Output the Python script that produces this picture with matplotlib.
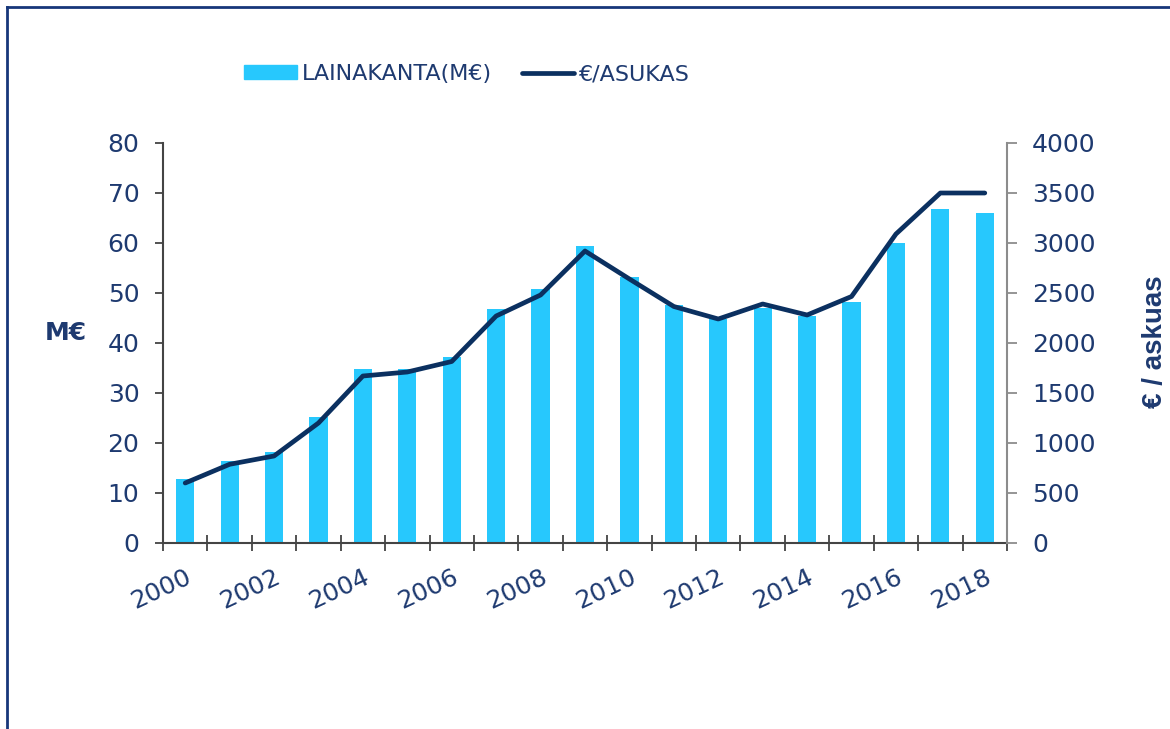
import matplotlib
matplotlib.use("Agg")
import matplotlib.pyplot as plt
from matplotlib.lines import Line2D
import numpy as np

years = list(range(2000, 2019))
lainakanta = [12.9, 16.4, 18.2, 25.2, 34.8, 34.8, 37.3, 46.9, 50.8, 59.5,
              53.3, 47.6, 44.8, 47.1, 45.5, 48.2, 60.0, 66.9, 66.1]
per_asukas = [600, 787, 870, 1200, 1670, 1710, 1815, 2270, 2480, 2920,
              2640, 2365, 2240, 2390, 2280, 2465, 3090, 3500, 3500]
left_ticks = [0, 10, 20, 30, 40, 50, 60, 70, 80]
right_ticks = [0, 500, 1000, 1500, 2000, 2500, 3000, 3500, 4000]

BAR = "#27C8FD"
LINE = "#0B3060"
TXT = "#1E3A70"
plt.rcParams['font.family'] = ['DejaVu Sans']

fig = plt.figure(figsize=(11.7, 7.29), dpi=100)
ax = fig.add_axes([163/1170, (729-543)/729, (1007-163)/1170, 400/729])
x = np.arange(len(years))
ax.bar(x, lainakanta, width=0.41, color=BAR, zorder=2, label="LAINAKANTA(M€)")
ax.set_xlim(-0.5, len(years) - 0.5)
ax.set_ylim(0, 80)
ax.set_yticks(left_ticks)
ax.set_yticklabels([str(v) for v in left_ticks])

ax2 = ax.twinx()
ax2.plot(x, per_asukas, color=LINE, lw=3.4, solid_capstyle='round',
         solid_joinstyle='round', zorder=3)
ax2.set_ylim(0, 4000)
ax2.set_yticks(right_ticks)
ax2.set_yticklabels([str(v) for v in right_ticks])
ax.set_zorder(1)
ax2.set_zorder(2)
ax2.patch.set_visible(False)

# spines
for a in (ax, ax2):
    a.spines['top'].set_visible(False)
ax.spines['right'].set_visible(False)
ax2.spines['left'].set_visible(False)
ax2.spines['bottom'].set_visible(False)
ax.spines['left'].set_color('#444444')
ax.spines['bottom'].set_color('#444444')
ax2.spines['right'].set_color('#8C8C8C')
for s in ('left', 'bottom'):
    ax.spines[s].set_linewidth(1.5)
ax2.spines['right'].set_linewidth(1.5)

ax.tick_params(axis='y', direction='out', length=6, width=1.3, color='#444444',
               pad=11, labelsize=18, labelcolor=TXT)
ax2.tick_params(axis='y', direction='out', length=7, width=1.3, color='#8C8C8C',
                pad=11, labelsize=18, labelcolor=TXT)

# x ticks: marks at boundaries, labels at even years
ax.set_xticks(np.arange(-0.5, len(years), 1.0))
ax.set_xticklabels([])
ax.tick_params(axis='x', which='major', direction='inout', length=12, width=1.3,
               color='#444444')
lab_pos = [i for i, y in enumerate(years) if y % 2 == 0]
ax.set_xticks(lab_pos, minor=True)
ax.set_xticklabels([str(years[i]) for i in lab_pos], minor=True)
ax.tick_params(axis='x', which='minor', length=0, pad=16, labelsize=18,
               labelcolor=TXT)
for t in ax.get_xticklabels(minor=True):
    t.set_rotation(25)
    t.set_rotation_mode('anchor')
    t.set_ha('right')
    t.set_va('top')

fig.text(66/1170, 1 - 333/729, "M€", fontsize=18, fontweight='bold', color=TXT,
         ha='center', va='center')
fig.text(1155/1170, 1 - 342/729, "€ / askuas", fontsize=20, fontweight='bold',
         color=TXT, ha='center', va='center', rotation=90,
         family=['Liberation Sans', 'DejaVu Sans'])

handles = [plt.Rectangle((0, 0), 1, 1, color=BAR),
           Line2D([0], [0], color=LINE, lw=3.4, solid_capstyle='round')]
leg = fig.legend(handles, ["LAINAKANTA(M€)", "€/ASUKAS"], loc='center',
                 bbox_to_anchor=(467/1170, 1 - 74/729), ncol=2, frameon=False,
                 fontsize=16, handlelength=2.35, handleheight=0.6,
                 handletextpad=0.22, columnspacing=1.35)
for t in leg.get_texts():
    t.set_color(TXT)

# frame lines (top and left)
fig.add_artist(Line2D([7/1170, 1], [1 - 7/729, 1 - 7/729], color='#17377A', lw=2,
                      transform=fig.transFigure))
fig.add_artist(Line2D([7/1170, 7/1170], [0, 1 - 7/729], color='#17377A', lw=2,
                      transform=fig.transFigure))

fig.savefig("out.png", dpi=100, facecolor='white')
